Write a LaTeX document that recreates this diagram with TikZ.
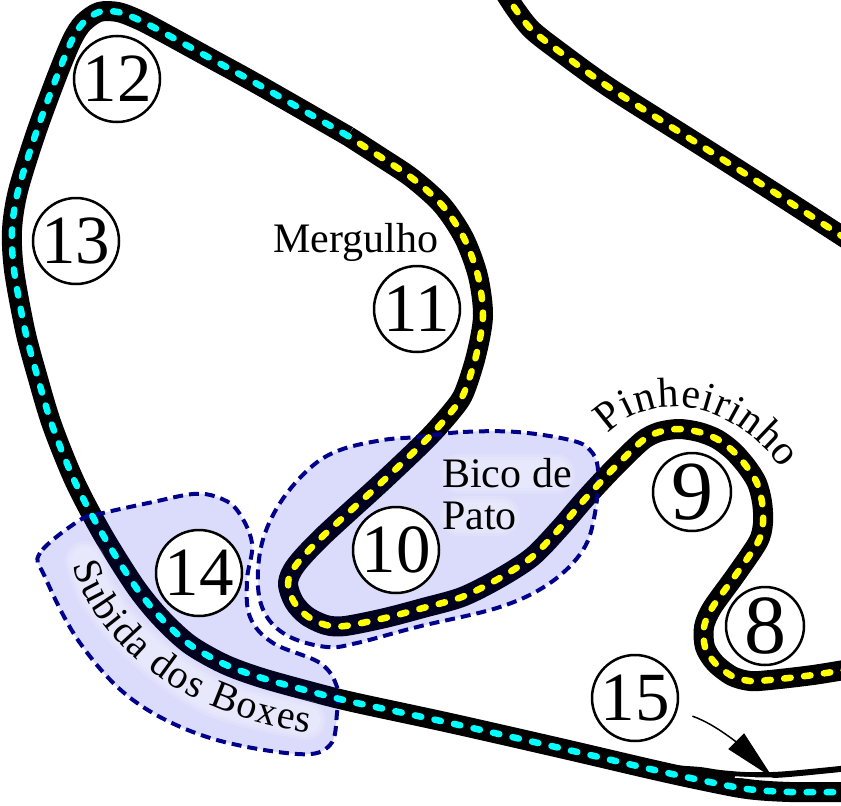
\documentclass[tikz,border=0pt]{standalone}
\usepackage{fontspec}
\setmainfont{Liberation Serif}
\usetikzlibrary{arrows.meta, decorations.text}
\definecolor{zoneblue}{RGB}{0,0,139}
\definecolor{zonefill}{RGB}{0,0,225}
\definecolor{lineyellow}{RGB}{255,255,0}
\definecolor{linecyan}{RGB}{0,255,255}

\def\topstraight{plot[smooth] coordinates {(503,-10) (516,10) (532,30) (560,52) (610,88) (700,145) (780,196) (848,240)}}
\def\yellowpart{plot[smooth] coordinates {(850,669) (813,675) (770,680) (750,681) (732,676) (715,663) (705,647)
    (704,627) (712,608) (735,576) (758,542) (763,523) (762,502) (757,483) (747,467) (733,451) (717,439) (699,432)
    (679,429) (659,432) (642,441) (613,469) (585,499) (560,528) (532,557) (498,579) (462,597) (423,608) (385,618)
    (345,626) (326,625) (307,616) (294,602) (288,583) (296,565) (323,536) (382,482) (427,439) (452,411) (464,393)
    (476,356) (483,316) (478,276) (464,238) (442,205) (412,178) (379,156) (348,136)}}
\def\cyanpart{plot[smooth] coordinates {(348,136) (259,85) (208,57) (155,28) (137,19) (118,12) (99,12) (83,23)
    (72,40) (57,76) (36,133) (18,191) (12,230) (14,270) (25,330) (37,375) (52,425) (75,482) (103,535) (135,586)
    (160,617) (189,644) (224,664) (262,678) (320,694) (357,703) (450,723) (560,748) (650,769) (700,780) (747,789)
    (790,792) (850,792)}}

\begin{document}
\begin{tikzpicture}[x=1pt, y=-1pt,
  track/.style={draw=black, line width=20pt, line join=round},
  kerb/.style={draw=#1, line width=6.5pt, line cap=round, dash pattern=on 6.5pt off 13.5pt},
  zone/.style={draw=zoneblue, line width=4pt, dash pattern=on 10pt off 6pt,
    fill=zonefill, fill opacity=.14},
  glow/.style={draw=white, opacity=.15, line width=#1, line cap=round},
  turn/.style={circle, draw, line width=2.5pt, fill=white, inner sep=0pt,
    minimum size=86pt, font=\fontsize{69}{69}\selectfont},
  smallturn/.style={turn, minimum size=78pt, font=\fontsize{84}{84}\selectfont},
  place/.style={font=\fontsize{42}{42}\selectfont, inner sep=0pt},
  pitarrow/.style={line width=1.5pt, -{Triangle[length=52pt, width=22pt]}}]

  \useasboundingbox (0,0) rectangle (841,806);
  \clip (0,0) rectangle (841,806);

  % track
  \draw[track] \topstraight;
  \draw[track] \yellowpart;
  \draw[line width=6pt] plot[smooth] coordinates {(650,765) (680,768.5) (700,770) (720,773) (745,775) (773,775) (800,773) (850,768)};
  \draw[track] \cyanpart;
  \draw[white, line width=1.5pt] plot[smooth] coordinates {(735,777) (755,778) (773,778)};

  % zones
  \path[zone] plot[smooth cycle, tension=.6] coordinates {(80,520) (40,553) (45,577) (80,643) (133,700) (207,737)
    (297,754) (330,745) (337,713) (337,687) (320,663) (273,643) (250,617) (247,580) (252,543) (237,510) (217,497)
    (193,494) (153,502) (103,513)};
  \path[zone] plot[smooth cycle, tension=.6] coordinates {(417,437) (463,432) (517,432) (570,440) (590,450) (598,470)
    (595,513) (583,550) (550,583) (500,607) (417,627) (357,643) (327,647) (290,637) (267,617) (258,587) (262,543)
    (280,503) (310,468) (340,450) (383,440)};

  % dashes stay on top of the zones
  \draw[kerb=lineyellow] \topstraight;
  \draw[kerb=lineyellow] \yellowpart;
  \draw[kerb=linecyan] \cyanpart;

  % soft halo behind the labels
  \foreach \w in {40,34,28} {
    \draw[glow=\w pt] plot[smooth] coordinates {(85,561) (97,593) (125,630) (168,668) (212,696) (256,710) (306,720)};
    \draw[glow=\w pt] (460,474) -- (555,474);
    \draw[glow=\w pt] (460,516) -- (500,516);
  }

  \node[place, anchor=base west] (mergulho) at (273,252) {Mergulho};
  \node[place, anchor=base west, align=left] (bico) at (442,529) {Bico de\\Pato};

  \path[decorate, decoration={text along path, text align=fit to path,
    text={|\fontsize{40}{40}\selectfont|Subida dos Boxes}}]
    (73,565) .. controls (85,610) and (120,650) .. (160,678) .. controls (205,708) and (255,725) .. (309,733);
  \path[decorate, decoration={text along path, text align=fit to path,
    text={|\fontsize{42}{42}\selectfont|Pinheirinho}}]
    (608,434) .. controls (640,398) and (722,388) .. (782,469);

  \node[smallturn] (n8) at (765,626) {8};
  \node[smallturn] (n9) at (692,492) {9};
  \node[turn] (n10) at (396,550) {10};
  \node[turn] (n11) at (417,309) {11};
  \node[turn] (n12) at (117,79) {12};
  \node[turn] (n13) at (76,241) {13};
  \node[turn] (n14) at (199,573) {14};
  \node[turn] (n15) at (635,698) {15};

  \coordinate (pitin) at (773,778);
  \draw[pitarrow, shorten <=16pt] (n15.-17) .. controls (718,725) and (745,750) .. (pitin);
\end{tikzpicture}
\end{document}
